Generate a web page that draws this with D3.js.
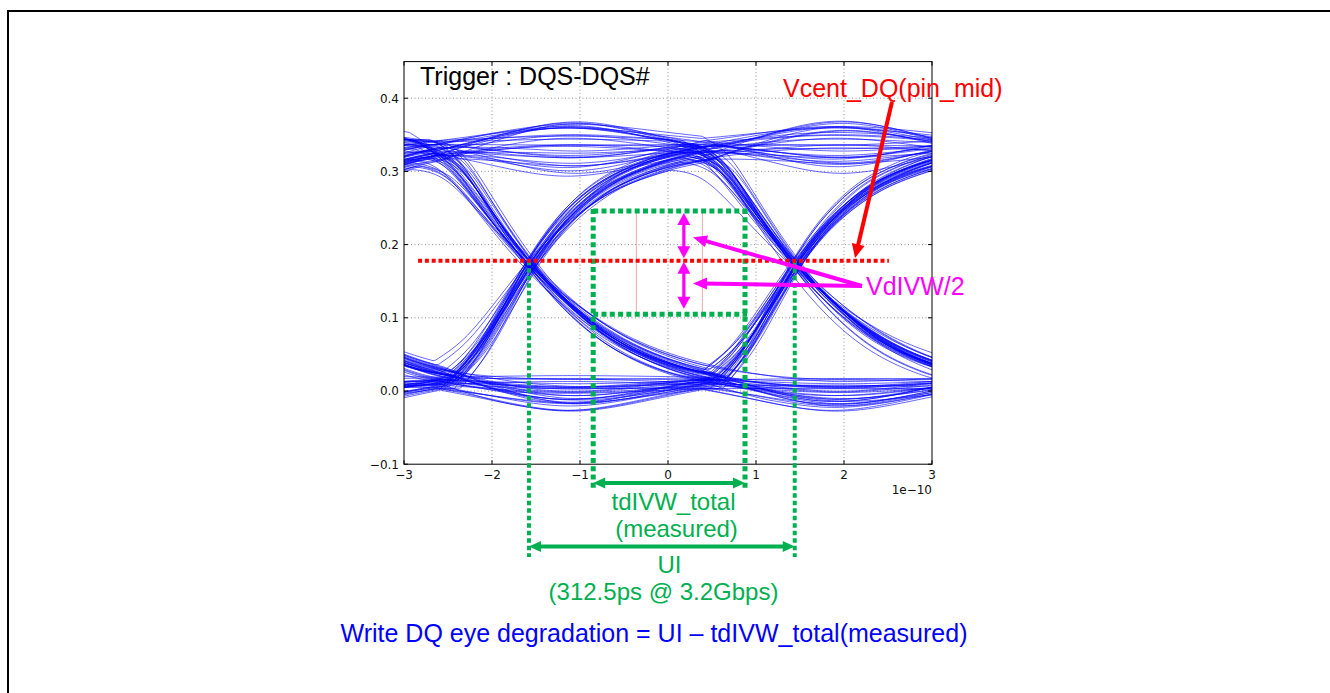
<!DOCTYPE html>
<html><head><meta charset="utf-8">
<script src="https://cdn.jsdelivr.net/npm/d3@7"></script>
<style>html,body{margin:0;padding:0;background:#fff;} svg{display:block;}</style>
</head><body>
<svg id="chart" width="1330" height="693"></svg>
<script>
// ---------------- DATA ----------------
const xDomain = [-3, 3];            // time, units of 1e-10 s
const yDomain = [-0.1, 0.45];       // volts
const xTicks = [-3, -2, -1, 0, 1, 2, 3];
const xTickLabels = ["\u22123", "\u22122", "\u22121", "0", "1", "2", "3"];
const yTicks = [-0.1, 0.0, 0.1, 0.2, 0.3, 0.4];
const yTickLabels = ["\u22120.1", "0.0", "0.1", "0.2", "0.3", "0.4"];
const xOffsetLabel = "1e\u221210";

// bit-slot boundaries of the captured waveforms (1e-10 s)
const bitBoundaries = [-5.55, -2.6, 0.42, 3.45];
const riseDelay = 0.13, fallDelay = -0.15;   // edge start relative to boundary
const riseCross = 0.9, fallCross = 1.19;     // time from edge start to the 50% point
// normalized edge step shapes, sampled every 0.3 (1e-10 s) after the edge start
const edgeStep = 0.3;
const riseShape = [0, 0.12, 0.31, 0.50, 0.65, 0.76, 0.84, 0.89, 0.93, 0.955, 0.975, 0.985, 0.993, 0.998, 1];
const fallShape = [0, 0.05, 0.21, 0.37, 0.51, 0.63, 0.73, 0.81, 0.87, 0.915, 0.95, 0.97, 0.985, 0.995, 1];
// normalized shape of the ripple on steady bits across one bit slot
const bumpShape = [0, 0.4, 0.85, 1.1, 0.85, 0.4, 0];

// one entry per captured trace: 4 bits (slot before -5.55, -5.55..-2.6, -2.6..0.42, after 0.42)
const patterns = [
 "0000","0001","0010","0011","0100","0101","0110","0111","1000","1001","1010","1011","1100","1101","1110","1111",
 "0000","0001","0010","0011","0100","0101","0110","0111","1000","1001","1010","1011","1100","1101","1110","1111",
 "0000","0001","0010","0011","0100","0101","0110","0111","1000","1001","1010","1011","1100","1101","1110","1111",
 "0000","0001","0010","0011","0100","0101","0110","0111","1000","1001","1010","1011","1100","1101","1110","1111",
 "0000","0001","0010","0011","0100","0101","0110","0111","1000","1001","1010","1011","1100","1101","1110","1111",
 "0000","0001","0010","0011","0100","0101","0110","0111","1000","1001","1010","1011","1100","1101","1110","1111",
 "0000","0001","0010","0011","0100","0101","0110","0111","1000","1001","1010","1011","1100","1101","1110","1111",
 "0000","0001","0010","0011","0100","0101","0110","0111","1000","1001","1010","1011","1100","1101","1110","1111"];
// settled high level of each trace (mV)
const hiLevelMV = [
 336,331,342,328,339,345,333,330,341,337,327,344,334,340,329,338,
 343,332,335,346,330,338,341,326,336,333,344,339,328,335,342,331,
 329,340,337,333,345,327,336,342,331,346,334,330,343,328,337,341,
 338,326,343,339,332,336,329,345,340,328,335,342,337,344,331,334,
 334,345,328,337,341,324,339,333,346,330,338,327,342,336,325,340,
 327,339,346,331,336,343,325,338,333,341,329,347,335,324,340,337,
 341,335,326,344,328,339,347,334,325,338,342,331,346,329,336,323,
 332,342,338,325,347,331,337,340,328,344,326,336,339,345,333,328];
// settled low level of each trace (mV)
const loLevelMV = [
 8,14,4,11,17,6,12,2,15,9,19,5,10,13,3,16,
 7,18,11,1,14,9,5,16,12,3,8,19,6,15,10,13,
 17,4,9,14,2,11,18,7,13,6,16,10,4,12,8,15,
 11,19,3,9,15,7,13,5,10,16,2,12,18,6,14,9,
 5,12,16,8,1,14,10,19,4,11,7,15,13,2,17,9,
 15,3,10,18,12,6,1,14,17,8,13,4,9,16,5,11,
 2,16,13,6,19,10,8,3,11,15,5,17,7,12,18,4,
 13,9,6,15,4,17,11,12,3,14,10,1,16,8,7,18];
// edge timing offset of each trace (ps)
const timeShiftPS = [
 2,-3,5,-1,3,-5,0,4,-2,6,-4,1,-6,3,-1,2,
 -3,5,-2,0,4,-5,2,-1,6,-3,1,-4,3,0,-6,5,
 1,-2,4,-5,2,3,-3,0,-1,5,-4,6,-2,1,3,-6,
 4,0,-5,2,-3,6,1,-4,3,-1,5,-2,0,-6,2,4,
 -4,7,1,-2,5,-6,3,0,-7,2,4,-3,6,-1,-5,1,
 6,-1,-4,3,0,2,-7,5,1,-5,-2,7,-3,4,0,-4,
 -2,3,6,-6,1,-3,4,-5,7,0,-1,2,-4,5,-7,3,
 0,-5,2,5,-4,1,-2,6,-3,4,7,-6,2,-1,3,-2];
// relative edge speed of each trace (%)
const edgeRatePct = [
 100,92,108,96,112,88,104,94,110,98,86,106,102,90,114,97,
 93,109,99,87,105,113,95,101,89,107,97,111,91,103,85,108,
 106,95,88,112,100,94,110,86,103,98,114,92,107,90,101,96,
 89,104,111,97,93,108,99,113,87,102,95,106,91,109,98,100,
 112,86,101,107,94,98,90,105,114,92,103,88,110,96,104,93,
 97,110,93,89,106,101,113,91,99,87,108,102,94,111,88,105,
 103,91,114,100,88,96,107,98,92,112,90,104,86,100,109,95,
 90,107,96,104,110,89,93,112,101,95,106,99,113,87,97,102];
// ripple amplitude on steady high bits (mV)
const bumpHighMV = [
 12,-20,30,4,-32,22,-8,35,-15,18,27,-25,8,-3,33,-18,
 24,-10,15,-28,31,2,-22,19,-5,29,-33,10,21,-14,6,36,
 -26,16,1,-19,28,-7,23,-35,13,32,-12,25,-24,9,-1,20,
 30,-16,17,-29,5,26,-21,14,-9,34,-27,11,22,-4,18,-36,
 -11,37,-30,7,20,-2,-37,27,15,-23,3,33,-17,24,-31,10,
 21,-6,-34,25,-13,38,9,-26,31,-1,-19,14,36,-29,4,-15,
 -38,28,11,-8,34,-24,17,2,-20,26,-10,37,-3,-33,23,13,
 6,-27,32,-14,-21,19,29,-12,-34,8,24,-5,15,30,-25,-9];
// ripple amplitude on steady low bits (mV)
const bumpLowMV = [
 -10,-25,4,-18,-30,-4,-14,-28,2,-21,-8,-32,-16,6,-24,-12,
 -27,-2,-19,-31,-9,3,-22,-15,-29,-6,-13,5,-26,-18,-1,-23,
 -11,-30,-5,-20,1,-27,-16,-8,-24,-3,-31,-13,4,-19,-28,-7,
 -17,2,-25,-10,-29,-14,6,-21,-4,-32,-12,-26,-2,-20,-9,-15,
 -22,-7,-33,0,-15,-26,-3,-18,-30,5,-11,-24,-6,-34,-13,1,
 -5,-19,-12,-28,3,-9,-31,-1,-17,-23,4,-14,-27,-8,-20,-33,
 -29,-13,-1,-24,-6,-34,-16,5,-21,-10,-28,-2,-18,-25,2,-11,
 -14,4,-23,-7,-26,-17,-4,-32,1,-20,-8,-30,-12,3,-27,-19];

// annotation values (data coordinates)
const vcentDQ = 0.178;
const vcentExtent = [-2.84, 2.51];
const crossingTimes = [-1.58, 1.44];     // UI boundaries
const tdivwWindow = [-0.85, 0.875];       // measured tdIVW_total
const vdivwWindow = [0.105, 0.246];       // VdIVW
const vdivwArrowT = 0.18;
const cursorTimes = [-0.36, 0.39];
const texts = {
  trigger: "Trigger : DQS-DQS#",
  vcent: "Vcent_DQ(pin_mid)",
  vdivw: "VdIVW/2",
  tdivw1: "tdIVW_total",
  tdivw2: "(measured)",
  ui1: "UI",
  ui2: "(312.5ps @ 3.2Gbps)",
  formula: "Write DQ eye degradation = UI \u2013 tdIVW_total(measured)"
};

// ---------------- DRAWING ----------------
const svg = d3.select("#chart");
const plot = {left: 404, right: 932, top: 61.6, bottom: 464.2};
const x = d3.scaleLinear().domain(xDomain).range([plot.left, plot.right]);
const y = d3.scaleLinear().domain(yDomain).range([plot.bottom, plot.top]);
const GREEN = "#00b050", RED = "#ff0000", MAG = "#ff00ff", BLUE = "#0000ff";
const FONT = "'Liberation Sans', Arial, Helvetica, sans-serif";
const TICKFONT = "'DejaVu Sans', Verdana, sans-serif";

// outer frame
svg.append("rect").attr("x", 8).attr("y", 11).attr("width", 1400).attr("height", 800)
  .attr("fill", "none").attr("stroke", "#000").attr("stroke-width", 2);

svg.append("defs").append("clipPath").attr("id", "clip").append("rect")
  .attr("x", plot.left).attr("y", plot.top)
  .attr("width", plot.right - plot.left).attr("height", plot.bottom - plot.top);

// grid
const grid = svg.append("g").attr("stroke", "#555").attr("stroke-width", 0.8)
  .attr("stroke-dasharray", "1,2.5").attr("opacity", 0.8);
xTicks.slice(1, -1).forEach(t => grid.append("line")
  .attr("x1", x(t)).attr("x2", x(t)).attr("y1", plot.top).attr("y2", plot.bottom));
yTicks.slice(1).forEach(v => grid.append("line")
  .attr("x1", plot.left).attr("x2", plot.right).attr("y1", y(v)).attr("y2", y(v)));

// eye traces
const riseFn = d3.interpolateBasis(riseShape);
const fallFn = d3.interpolateBasis(fallShape);
const bumpFn = d3.interpolateBasis(bumpShape);
const span = edgeStep * (riseShape.length - 1);
const stepAt = (fn, d) => d <= 0 ? 0 : d >= span ? 1 : fn(d / span);
const tSamples = d3.range(xDomain[0], xDomain[1] + 1e-9, 0.03);
const line = d3.line().x(d => x(d[0])).y(d => y(d[1])).curve(d3.curveMonotoneX);
const traces = svg.append("g").attr("clip-path", "url(#clip)");
patterns.forEach((p, i) => {
  const bits = p.split("").map(Number);
  const hi = hiLevelMV[i] / 1000, lo = loLevelMV[i] / 1000, sh = timeShiftPS[i] / 100;
  const rate = edgeRatePct[i] / 100;
  const L = b => b ? hi : lo;
  const pts = tSamples.map(t => {
    let v = L(bits[0]);
    for (let k = 0; k < bits.length - 1; k++) {
      const dv = L(bits[k + 1]) - L(bits[k]);
      if (dv === 0) continue;
      const rising = dv > 0;
      const c = rising ? riseCross : fallCross;
      const start = bitBoundaries[k] + sh + (rising ? riseDelay : fallDelay);
      const d = c + (t - start - c) * rate;
      v += dv * stepAt(rising ? riseFn : fallFn, d);
    }
    for (let j = 1; j < bits.length; j++) {
      if (bits[j] !== bits[j - 1]) continue;
      const a = bitBoundaries[j - 1] + sh, b = bitBoundaries[j] + sh;
      const u = (t - a) / (b - a);
      if (u <= 0 || u >= 1) continue;
      v += (bits[j] ? bumpHighMV[i] : bumpLowMV[i]) / 1000 * bumpFn(u);
    }
    return [t, v];
  });
  traces.append("path").attr("d", line(pts)).attr("fill", "none")
    .attr("stroke", BLUE).attr("stroke-width", 0.9).attr("stroke-opacity", 0.68);
});

// axes frame + ticks
svg.append("rect").attr("x", plot.left).attr("y", plot.top)
  .attr("width", plot.right - plot.left).attr("height", plot.bottom - plot.top)
  .attr("fill", "none").attr("stroke", "#000").attr("stroke-width", 1);
const tk = svg.append("g").attr("stroke", "#000").attr("stroke-width", 1);
xTicks.forEach(t => {
  tk.append("line").attr("x1", x(t)).attr("x2", x(t)).attr("y1", plot.bottom).attr("y2", plot.bottom - 4);
  tk.append("line").attr("x1", x(t)).attr("x2", x(t)).attr("y1", plot.top).attr("y2", plot.top + 4);
});
yTicks.forEach(v => {
  tk.append("line").attr("x1", plot.left).attr("x2", plot.left + 4).attr("y1", y(v)).attr("y2", y(v));
  tk.append("line").attr("x1", plot.right).attr("x2", plot.right - 4).attr("y1", y(v)).attr("y2", y(v));
});
const tl = svg.append("g").attr("font-family", TICKFONT).attr("font-size", 12).attr("fill", "#111");
xTicks.forEach((t, i) => tl.append("text").attr("x", x(t)).attr("y", plot.bottom + 15)
  .attr("text-anchor", "middle").text(xTickLabels[i]));
yTicks.forEach((v, i) => tl.append("text").attr("x", plot.left - 5).attr("y", y(v) + 4.3)
  .attr("text-anchor", "end").text(yTickLabels[i]));
tl.append("text").attr("x", plot.right).attr("y", plot.bottom + 30).attr("text-anchor", "end").text(xOffsetLabel);

// ---------- annotations ----------
const ann = svg.append("g");
function head(g, x1, y1, x2, y2, len, wid, color) {
  const a = Math.atan2(y2 - y1, x2 - x1);
  const bx = x2 - len * Math.cos(a), by = y2 - len * Math.sin(a);
  const px = -Math.sin(a) * wid / 2, py = Math.cos(a) * wid / 2;
  g.append("path").attr("d", `M${x2},${y2}L${bx + px},${by + py}L${bx - px},${by - py}Z`).attr("fill", color);
}
function arrow(g, x1, y1, x2, y2, o) {
  const a = Math.atan2(y2 - y1, x2 - x1);
  const s = o.len * 0.8;
  const sx = o.both ? x1 + s * Math.cos(a) : x1, sy = o.both ? y1 + s * Math.sin(a) : y1;
  g.append("line").attr("x1", sx).attr("y1", sy)
    .attr("x2", x2 - s * Math.cos(a)).attr("y2", y2 - s * Math.sin(a))
    .attr("stroke", o.color).attr("stroke-width", o.w);
  head(g, x1, y1, x2, y2, o.len, o.wid, o.color);
  if (o.both) head(g, x2, y2, x1, y1, o.len, o.wid, o.color);
}

// pink cursor lines
cursorTimes.forEach(t => ann.append("line").attr("x1", x(t)).attr("x2", x(t))
  .attr("y1", y(vdivwWindow[1])).attr("y2", y(vdivwWindow[0]))
  .attr("stroke", "#e8a8a8").attr("stroke-width", 1));

// green dotted lines
const gd = ann.append("g").attr("stroke", GREEN).attr("fill", "none");
const uiBottom = 557, tdBottom = 488;
crossingTimes.forEach(t => gd.append("line").attr("x1", x(t)).attr("x2", x(t))
  .attr("y1", y(vcentDQ)).attr("y2", uiBottom).attr("stroke-width", 4).attr("stroke-dasharray", "4.5,3"));
tdivwWindow.forEach(t => gd.append("line").attr("x1", x(t)).attr("x2", x(t))
  .attr("y1", y(vdivwWindow[1]) - 2).attr("y2", tdBottom).attr("stroke-width", 5).attr("stroke-dasharray", "5,3.3"));
vdivwWindow.forEach(v => gd.append("line").attr("x1", x(tdivwWindow[0])).attr("x2", x(tdivwWindow[1]) + 2)
  .attr("y1", y(v)).attr("y2", y(v)).attr("stroke-width", 5).attr("stroke-dasharray", "5,3.3"));

// red dotted Vcent line
ann.append("line").attr("x1", x(vcentExtent[0])).attr("x2", x(vcentExtent[1]))
  .attr("y1", y(vcentDQ)).attr("y2", y(vcentDQ))
  .attr("stroke", RED).attr("stroke-width", 4).attr("stroke-dasharray", "4,2.8");

// green double arrows
arrow(ann, x(tdivwWindow[0]), 483, x(tdivwWindow[1]), 483, {color: GREEN, w: 4, len: 12, wid: 11, both: true});
arrow(ann, x(crossingTimes[0]), 546.5, x(crossingTimes[1]), 546.5, {color: GREEN, w: 4, len: 12, wid: 11, both: true});

// magenta VdIVW/2 double arrows
const vx = x(vdivwArrowT);
arrow(ann, vx, y(vdivwWindow[1]) + 2, vx, y(vcentDQ) - 2.5, {color: MAG, w: 3.2, len: 12, wid: 13, both: true});
arrow(ann, vx, y(vcentDQ) + 1, vx, y(vdivwWindow[0]) - 5.5, {color: MAG, w: 3.2, len: 12, wid: 13, both: true});

// magenta pointers from label
const lblX = 862, lblY = 286;
arrow(ann, lblX, lblY, x(0.284), y(0.210), {color: MAG, w: 4, len: 14, wid: 12});
arrow(ann, lblX, lblY, x(0.284), y(0.147), {color: MAG, w: 4, len: 14, wid: 12});

// red pointer from Vcent label
arrow(ann, 892, 102, x(2.125), y(0.1816), {color: RED, w: 4, len: 14, wid: 13});

// texts
const tx = (s, X, Y, color, anchor, size) => ann.append("text").attr("x", X).attr("y", Y)
  .attr("font-family", FONT).attr("font-size", size || 25).attr("fill", color)
  .attr("text-anchor", anchor || "start").text(s);
tx(texts.trigger, 420, 85, "#000");
tx(texts.vcent, 783, 97, RED);
tx(texts.vdivw, 866, 295, MAG);
tx(texts.tdivw1, 673.5, 510, GREEN, "middle", 24);
tx(texts.tdivw2, 676.5, 537, GREEN, "middle", 24);
tx(texts.ui1, 669.5, 573, GREEN, "middle", 24);
tx(texts.ui2, 663.5, 600, GREEN, "middle", 24);
tx(texts.formula, 654, 642, BLUE, "middle");
</script>
</body></html>
